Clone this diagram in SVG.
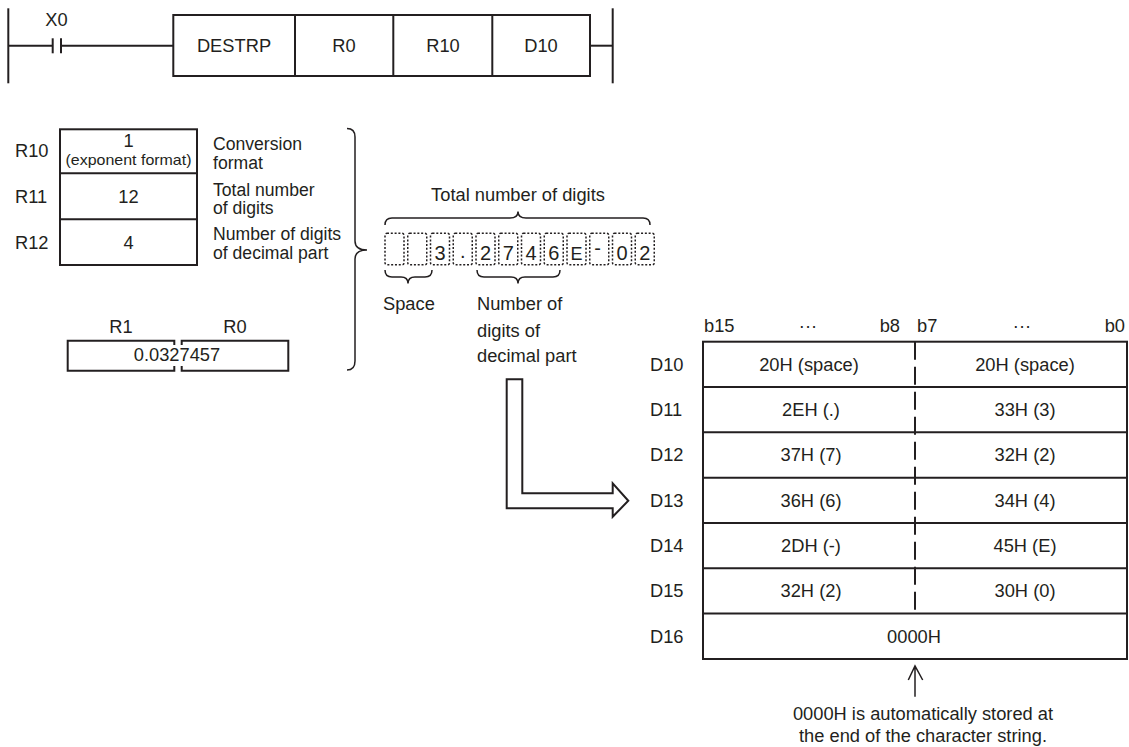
<svg xmlns="http://www.w3.org/2000/svg" width="1129" height="747" viewBox="0 0 1129 747">
<style>
  text { font-family: "Liberation Sans", Arial, sans-serif; font-size: 18.3px; fill: #231f20; }
  .c { text-anchor: middle; }
  .lbl { font-size: 17.6px; }
  .dg { font-size: 20px; text-anchor: middle; }
  .ln { fill: none; stroke: #231f20; stroke-width: 2; }
  .thin { fill: none; stroke: #231f20; stroke-width: 1.5; }
  .dot { fill: none; stroke: #231f20; stroke-width: 1.5; stroke-dasharray: 2 1.8; }
  .dash { fill: none; stroke: #231f20; stroke-width: 2; stroke-dasharray: 18 7; }
  .cell { fill: #fff; stroke: #231f20; stroke-width: 2; }
</style>
<rect width="1129" height="747" fill="#fff"/>

<g id="ladder">
  <line class="ln" x1="8.3" y1="8.3" x2="8.3" y2="83.3"/>
  <line class="ln" x1="612.7" y1="8.3" x2="612.7" y2="83.3"/>
  <line class="ln" x1="8.3" y1="45.7" x2="52.7" y2="45.7"/>
  <line class="ln" x1="52.7" y1="38.3" x2="52.7" y2="53.3"/>
  <line class="ln" x1="61" y1="38.3" x2="61" y2="53.3"/>
  <line class="ln" x1="61" y1="45.7" x2="173.3" y2="45.7"/>
  <text class="c" x="56.5" y="26">X0</text>
  <line class="ln" x1="590" y1="45.7" x2="612.7" y2="45.7"/>
</g>

<g id="instruction">
  <rect class="cell" x="173.3" y="15" width="416.7" height="61"/>
  <line class="ln" x1="295" y1="15" x2="295" y2="76"/>
  <line class="ln" x1="393.3" y1="15" x2="393.3" y2="76"/>
  <line class="ln" x1="492.3" y1="15" x2="492.3" y2="76"/>
  <text class="c" x="234" y="51.7">DESTRP</text>
  <text class="c" x="344" y="51.7">R0</text>
  <text class="c" x="443" y="51.7">R10</text>
  <text class="c" x="541" y="51.7">D10</text>
</g>

<g id="r-registers">
  <rect class="cell" x="60" y="129.3" width="137" height="135.7"/>
  <line class="ln" x1="60" y1="173.3" x2="197" y2="173.3"/>
  <line class="ln" x1="60" y1="219.3" x2="197" y2="219.3"/>
  <text x="15" y="157">R10</text>
  <text x="15" y="203">R11</text>
  <text x="15" y="249">R12</text>
  <text class="c" x="128.5" y="146.7">1</text>
  <text class="c" x="128.5" y="165" style="font-size:15px" textLength="126" lengthAdjust="spacingAndGlyphs">(exponent format)</text>
  <text class="c" x="128.5" y="203.3">12</text>
  <text class="c" x="128.5" y="249">4</text>
  <text class="lbl" x="213" y="149.5">Conversion</text>
  <text class="lbl" x="213" y="168.5">format</text>
  <text class="lbl" x="213" y="195.5">Total number</text>
  <text class="lbl" x="213" y="214">of digits</text>
  <text class="lbl" x="213" y="239.5">Number of digits</text>
  <text class="lbl" x="213" y="258.5">of decimal part</text>
</g>

<g id="r0-r1">
  <text class="c" x="121" y="333">R1</text>
  <text class="c" x="235" y="333">R0</text>
  <path class="ln" d="M174.3 345 L174.3 340.7 L67.7 340.7 L67.7 370.7 L174.3 370.7 L174.3 366"/>
  <path class="ln" d="M181.7 345 L181.7 340.7 L288.3 340.7 L288.3 370.7 L181.7 370.7 L181.7 366"/>
  <text class="c" x="177" y="361">0.0327457</text>
</g>

<g id="big-brace">
  <path class="thin" d="M347 128.5 Q355 128.5 355 137 L355 241 Q355 250 367 250 Q355 250 355 259 L355 361 Q355 370 347 370"/>
</g>

<g id="char-string">
  <text class="c" x="518" y="201">Total number of digits</text>
  <path class="thin" d="M385 225 Q385 218 392 218 L510 218 Q518 218 518 211.5 Q518 218 526 218 L643 218 Q650 218 650 225"/>
  <rect class="dot" x="385" y="233.3" width="19" height="31.5" rx="2"/>
  <rect class="dot" x="407.75" y="233.3" width="19" height="31.5" rx="2"/>
  <rect class="dot" x="430.5" y="233.3" width="19" height="31.5" rx="2"/>
  <rect class="dot" x="453.25" y="233.3" width="19" height="31.5" rx="2"/>
  <rect class="dot" x="476" y="233.3" width="19" height="31.5" rx="2"/>
  <rect class="dot" x="498.75" y="233.3" width="19" height="31.5" rx="2"/>
  <rect class="dot" x="521.5" y="233.3" width="19" height="31.5" rx="2"/>
  <rect class="dot" x="544.25" y="233.3" width="19" height="31.5" rx="2"/>
  <rect class="dot" x="567" y="233.3" width="19" height="31.5" rx="2"/>
  <rect class="dot" x="589.75" y="233.3" width="19" height="31.5" rx="2"/>
  <rect class="dot" x="612.5" y="233.3" width="19" height="31.5" rx="2"/>
  <rect class="dot" x="635.25" y="233.3" width="19" height="31.5" rx="2"/>
  <text class="dg" x="440" y="259.5">3</text>
  <text class="dg" x="462.7" y="258">.</text>
  <text class="dg" x="485.5" y="259.5">2</text>
  <text class="dg" x="508.2" y="259.5">7</text>
  <text class="dg" x="531" y="259.5">4</text>
  <text class="dg" x="553.7" y="259.5">6</text>
  <text class="dg" x="576.5" y="259.5" style="font-size:18px">E</text>
  <text class="dg" x="597.5" y="255">-</text>
  <text class="dg" x="622" y="259.5">0</text>
  <text class="dg" x="644.7" y="259.5">2</text>
  <path class="thin" d="M385 270 Q385 277 392 277 L401 277 Q408 277 408 283.5 Q408 277 415 277 L425 277 Q432 277 432 270"/>
  <path class="thin" d="M477 270 Q477 277 484 277 L511 277 Q518 277 518 283.5 Q518 277 525 277 L553 277 Q560 277 560 270"/>
  <text x="383" y="310">Space</text>
  <text x="477" y="310">Number of</text>
  <text x="477" y="337">digits of</text>
  <text x="477" y="361.7">decimal part</text>
</g>

<g id="connectors">
  <path class="ln" d="M506.7 379.3 L522.3 379.3 L522.3 493.3 L612.7 493.3 L612.7 483.3 L628.3 500.8 L612.7 516.7 L612.7 508.3 L506.7 508.3 Z"/>
  <path class="thin" d="M915 696.7 L915 666 M908.3 680 L915 666 L922.7 680"/>
</g>

<g id="d-table">
  <text x="704" y="331.7">b15</text>
  <text class="c" x="808" y="331.7">···</text>
  <text text-anchor="end" x="900" y="331.7">b8</text>
  <text x="917" y="331.7">b7</text>
  <text class="c" x="1022" y="331.7">···</text>
  <text text-anchor="end" x="1125" y="331.7">b0</text>
  <rect class="cell" x="703" y="341.7" width="424" height="317.3"/>
  <line class="ln" x1="703" y1="387" x2="1127" y2="387"/>
  <line class="ln" x1="703" y1="432.3" x2="1127" y2="432.3"/>
  <line class="ln" x1="703" y1="477.7" x2="1127" y2="477.7"/>
  <line class="ln" x1="703" y1="523" x2="1127" y2="523"/>
  <line class="ln" x1="703" y1="568.3" x2="1127" y2="568.3"/>
  <line class="ln" x1="703" y1="613.6" x2="1127" y2="613.6"/>
  <line class="dash" x1="915" y1="341.7" x2="915" y2="613.6"/>
  <text x="650" y="370.6">D10</text>
  <text x="650" y="415.9">D11</text>
  <text x="650" y="461.2">D12</text>
  <text x="650" y="506.6">D13</text>
  <text x="650" y="551.9">D14</text>
  <text x="650" y="597.2">D15</text>
  <text x="650" y="642.5">D16</text>
  <text class="c" x="809" y="370.6">20H (space)</text>
  <text class="c" x="1025" y="370.6">20H (space)</text>
  <text class="c" x="811" y="415.9">2EH (.)</text>
  <text class="c" x="1025" y="415.9">33H (3)</text>
  <text class="c" x="811" y="461.2">37H (7)</text>
  <text class="c" x="1025" y="461.2">32H (2)</text>
  <text class="c" x="811" y="506.6">36H (6)</text>
  <text class="c" x="1025" y="506.6">34H (4)</text>
  <text class="c" x="811" y="551.9">2DH (-)</text>
  <text class="c" x="1025" y="551.9">45H (E)</text>
  <text class="c" x="811" y="597.2">32H (2)</text>
  <text class="c" x="1025" y="597.2">30H (0)</text>
  <text class="c" x="914" y="642.5">0000H</text>
</g>

<g id="note">
  <text class="c" x="923" y="720">0000H is automatically stored at</text>
  <text class="c" x="923" y="742">the end of the character string.</text>
</g>
</svg>
